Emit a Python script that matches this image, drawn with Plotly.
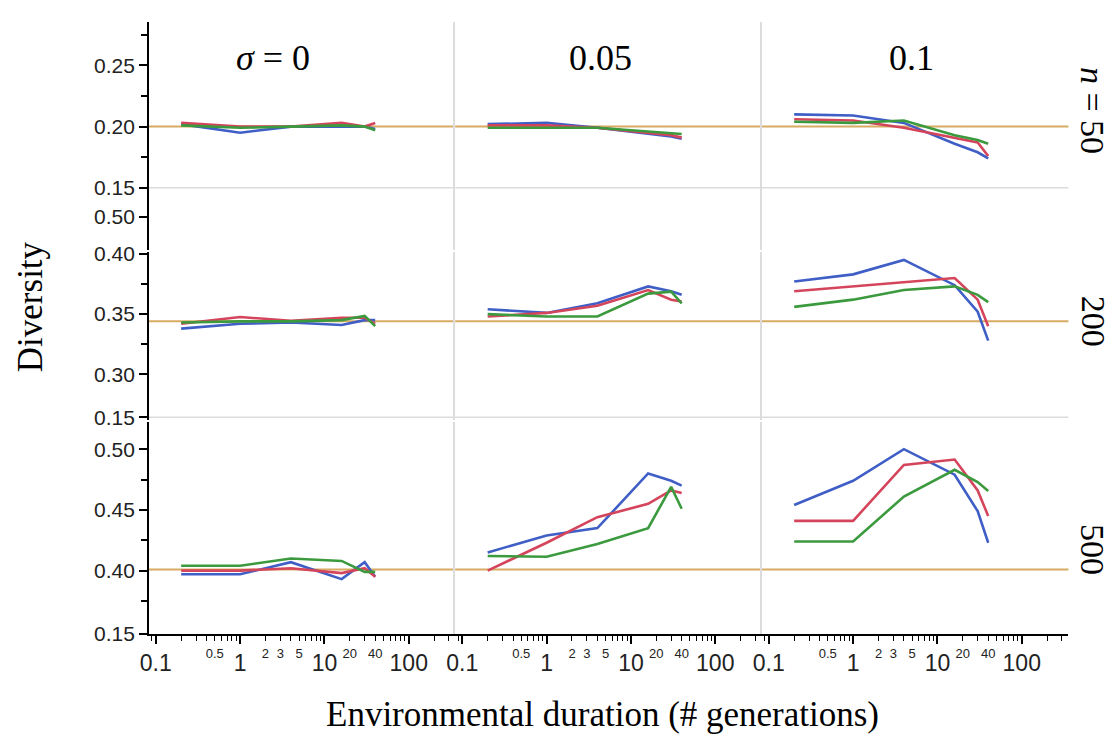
import plotly.graph_objects as go

W, H = 1116, 741

# ---------------- data ----------------
x_gen = [0.2, 1, 4, 16, 30, 40]          # environmental duration (# generations)
sigma_labels = ["<i>σ</i> = 0", "0.05", "0.1"]
n_labels = ["<i>n</i> = 50", "200", "500"]
ref_div = [0.20, 0.344, 0.401]            # neutral expectation per n

# n = 50
n50_s0_blue = [0.202, 0.195, 0.200, 0.200, 0.200, 0.198]
n50_s0_red = [0.203, 0.200, 0.200, 0.203, 0.200, 0.203]
n50_s0_green = [0.201, 0.199, 0.200, 0.201, 0.200, 0.197]
n50_s005_blue = [0.202, 0.203, 0.199, 0.194, 0.192, 0.190]
n50_s005_red = [0.201, 0.201, 0.199, 0.195, 0.193, 0.191]
n50_s005_green = [0.199, 0.199, 0.199, 0.196, 0.195, 0.194]
n50_s01_blue = [0.210, 0.209, 0.203, 0.186, 0.179, 0.174]
n50_s01_red = [0.206, 0.205, 0.199, 0.191, 0.187, 0.176]
n50_s01_green = [0.204, 0.203, 0.205, 0.193, 0.189, 0.186]
# n = 200
n200_s0_blue = [0.338, 0.342, 0.343, 0.341, 0.345, 0.345]
n200_s0_red = [0.342, 0.3476, 0.3445, 0.347, 0.347, 0.342]
n200_s0_green = [0.343, 0.344, 0.344, 0.345, 0.3485, 0.340]
n200_s005_blue = [0.354, 0.351, 0.359, 0.373, 0.369, 0.366]
n200_s005_red = [0.348, 0.351, 0.357, 0.370, 0.362, 0.3605]
n200_s005_green = [0.350, 0.348, 0.348, 0.367, 0.3686, 0.359]
n200_s01_blue = [0.377, 0.383, 0.395, 0.374, 0.352, 0.328]
n200_s01_red = [0.369, 0.373, 0.377, 0.380, 0.362, 0.340]
n200_s01_green = [0.356, 0.362, 0.370, 0.373, 0.366, 0.360]
# n = 500
n500_s0_blue = [0.397, 0.397, 0.407, 0.393, 0.407, 0.395]
n500_s0_red = [0.400, 0.400, 0.402, 0.398, 0.402, 0.395]
n500_s0_green = [0.404, 0.404, 0.410, 0.408, 0.399, 0.399]
n500_s005_blue = [0.415, 0.429, 0.435, 0.480, 0.474, 0.470]
n500_s005_red = [0.400, 0.423, 0.444, 0.455, 0.466, 0.464]
n500_s005_green = [0.412, 0.4115, 0.422, 0.435, 0.469, 0.451]
n500_s01_blue = [0.454, 0.474, 0.500, 0.479, 0.449, 0.423]
n500_s01_red = [0.441, 0.441, 0.487, 0.4915, 0.466, 0.445]
n500_s01_green = [0.424, 0.424, 0.461, 0.483, 0.473, 0.4656]

panels = [
    [(n50_s0_blue, n50_s0_red, n50_s0_green),
     (n50_s005_blue, n50_s005_red, n50_s005_green),
     (n50_s01_blue, n50_s01_red, n50_s01_green)],
    [(n200_s0_blue, n200_s0_red, n200_s0_green),
     (n200_s005_blue, n200_s005_red, n200_s005_green),
     (n200_s01_blue, n200_s01_red, n200_s01_green)],
    [(n500_s0_blue, n500_s0_red, n500_s0_green),
     (n500_s005_blue, n500_s005_red, n500_s005_green),
     (n500_s01_blue, n500_s01_red, n500_s01_green)],
]

# y tick labels per row (as printed on the stitched figure)
row1_tickvals = [0.1262, 0.15, 0.20, 0.25]
row1_ticktext = ["0.50", "0.15", "0.20", "0.25"]
row2_tickvals = [0.2645, 0.30, 0.35, 0.40]
row2_ticktext = ["0.15", "0.30", "0.35", "0.40"]
row3_tickvals = [0.3482, 0.40, 0.45, 0.50]
row3_ticktext = ["0.15", "0.40", "0.45", "0.50"]
row_minor = [[0.175, 0.225, 0.275], [0.325, 0.375], [0.375, 0.425, 0.475]]
row_grid = [0.15, 0.2645, None]
y_ranges = [[0.0992, 0.2857], [0.2621, 0.4016], [0.3480, 0.5224]]

x_major_vals = [0.1, 1, 10, 100]
x_major_text = ["0.1", "1", "10", "100"]
x_small_vals = [0.5, 2, 3, 5, 20, 40]
x_small_text = ["0.5", "2", "3", "5", "20", "40"]
x_minor_vals = [0.08, 0.09] + [m * d for d in (0.1, 1, 10) for m in range(2, 10)] + [200, 300]

# ---------------- style ----------------
series_colors = ["#3f5fc6", "#d4455c", "#3c9a3e"]
ref_color = "#d8ab63"
grid_color = "#dcdcdc"
serif = "Liberation Serif, Times New Roman, serif"
sans = "Liberation Sans, Arial, sans-serif"

col_px = [(141, 450), (450, 759), (759, 1068)]
row_px = [(12, 247), (249, 422), (424, 642)]
x_range = [-1.082, 2.553]


def fx(px):
    return px / W


def fy(py):
    return 1 - py / H


fig = go.Figure()
layout = dict(
    width=W, height=H,
    margin=dict(l=0, r=0, t=0, b=0),
    paper_bgcolor="white", plot_bgcolor="white",
    showlegend=False,
)
shapes = []
annotations = []

row_ticks = [(row1_tickvals, row1_ticktext), (row2_tickvals, row2_ticktext),
             (row3_tickvals, row3_ticktext)]

for r in range(3):
    for c in range(3):
        k = r * 3 + c + 1
        xn = "x" if k == 1 else f"x{k}"
        yn = "y" if k == 1 else f"y{k}"
        xa = "xaxis" if k == 1 else f"xaxis{k}"
        ya = "yaxis" if k == 1 else f"yaxis{k}"
        xdom = [fx(col_px[c][0]), fx(col_px[c][1])]
        ydom = [fy(row_px[r][1]), fy(row_px[r][0])]
        xaxis = dict(domain=xdom, anchor=yn, type="log", range=x_range,
                     showgrid=False, zeroline=False, fixedrange=True)
        if r == 2:
            xaxis.update(showline=True, linecolor="black", linewidth=1.5,
                         ticks="outside", ticklen=8, tickwidth=1.5, tickcolor="black",
                         tickmode="array", tickvals=x_major_vals, ticktext=x_major_text,
                         tickfont=dict(family=sans, size=23, color="#222"),
                         minor=dict(tickmode="array", tickvals=x_minor_vals,
                                    ticks="outside", ticklen=5, tickwidth=1.2,
                                    tickcolor="black", showgrid=False))
        else:
            xaxis.update(visible=False)
        yaxis = dict(domain=ydom, anchor=xn, range=y_ranges[r], showgrid=False,
                     zeroline=False, fixedrange=True)
        if c == 0:
            tv, tt = row_ticks[r]
            yaxis.update(showline=True, linecolor="black", linewidth=1.5,
                         ticks="outside", ticklen=8, tickwidth=1.5, tickcolor="black",
                         tickmode="array", tickvals=tv, ticktext=tt,
                         tickfont=dict(family=sans, size=21, color="#222"),
                         minor=dict(tickmode="array", tickvals=row_minor[r],
                                    ticks="outside", ticklen=6, tickwidth=1.5,
                                    tickcolor="black", showgrid=False))
        else:
            yaxis.update(showline=True, linecolor=grid_color, linewidth=1.5,
                         showticklabels=False, ticks="")
        layout[xa] = xaxis
        layout[ya] = yaxis

        # neutral reference line
        shapes.append(dict(type="line", xref=f"{xn} domain", yref=yn, x0=0, x1=1,
                           y0=ref_div[r], y1=ref_div[r],
                           line=dict(color=ref_color, width=2), layer="below"))
        if row_grid[r] is not None:
            shapes.append(dict(type="line", xref=f"{xn} domain", yref=yn, x0=0, x1=1,
                               y0=row_grid[r], y1=row_grid[r],
                               line=dict(color=grid_color, width=1.5), layer="below"))

        for s, col in zip(panels[r][c], series_colors):
            fig.add_trace(go.Scatter(x=x_gen, y=s, mode="lines", xaxis=xn, yaxis=yn,
                                     line=dict(color=col, width=2.6),
                                     hoverinfo="x+y"))

# small secondary tick labels on bottom axes
for c in range(3):
    k = 7 + c
    base = f"x{k}"
    ov = 10 + c
    layout[f"xaxis{ov}"] = dict(overlaying=base, anchor=f"y{k}", type="log",
                                range=x_range, showgrid=False, zeroline=False,
                                showline=False, ticks="outside", ticklen=8,
                                tickcolor="rgba(0,0,0,0)", tickmode="array",
                                tickvals=x_small_vals, ticktext=x_small_text,
                                tickfont=dict(family=sans, size=13, color="#222"),
                                fixedrange=True)
    fig.add_trace(go.Scatter(x=[x_gen[0]], y=[None], mode="lines",
                             xaxis=f"x{ov}", yaxis=f"y{k}", hoverinfo="skip",
                             showlegend=False))

# column titles
col_title_x = [266, 596, 910]
for c in range(3):
    annotations.append(dict(text=sigma_labels[c], x=fx(col_title_x[c]), y=fy(49),
                            xref="paper", yref="paper", showarrow=False,
                            xanchor="center", yanchor="middle",
                            font=dict(family=serif, size=36, color="black")))
# row titles (rotated)
row_title_y = [103, 320, 555]
for r in range(3):
    annotations.append(dict(text=n_labels[r], x=fx(1093), y=fy(row_title_y[r]),
                            xref="paper", yref="paper", showarrow=False, textangle=90,
                            xanchor="center", yanchor="middle",
                            font=dict(family=serif, size=34, color="black")))
# axis titles
annotations.append(dict(text="Environmental duration (# generations)", x=fx(598), y=fy(725),
                        xref="paper", yref="paper", showarrow=False,
                        xanchor="center", yanchor="middle",
                        font=dict(family=serif, size=35, color="black")))
annotations.append(dict(text="Diversity", x=fx(22), y=fy(305),
                        xref="paper", yref="paper", showarrow=False, textangle=-90,
                        xanchor="center", yanchor="middle",
                        font=dict(family=serif, size=35, color="black")))

layout["shapes"] = shapes
layout["annotations"] = annotations
fig.update_layout(**layout)
fig.write_html("out.html")
